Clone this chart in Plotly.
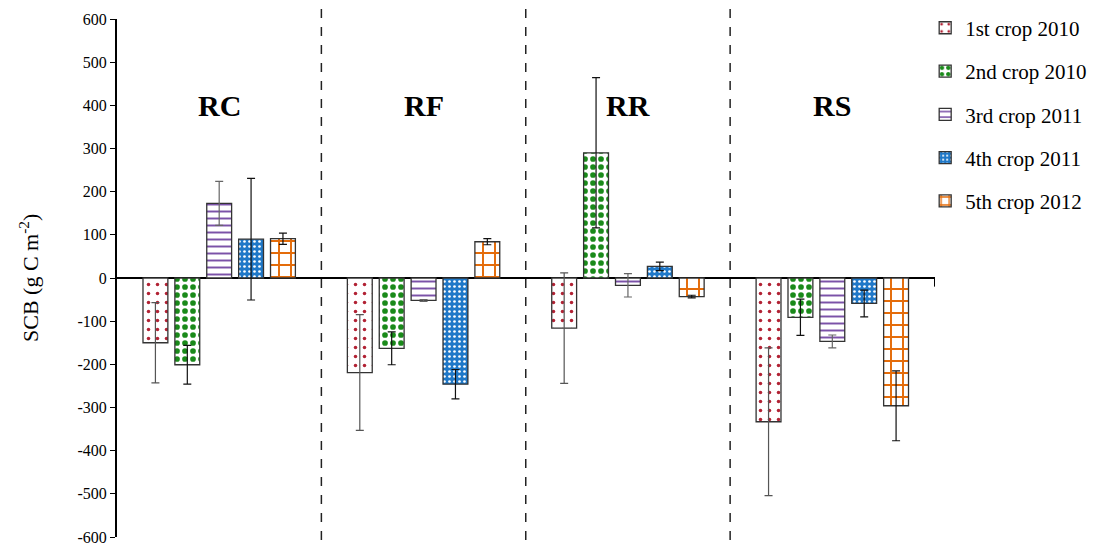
import plotly.graph_objects as go

sites = ["RC", "RF", "RR", "RS"]
series_names = ["1st crop 2010", "2nd crop 2010", "3rd crop 2011", "4th crop 2011", "5th crop 2012"]
values = [
    [-150, -219, -116, -333],
    [-201, -163, 290, -91],
    [173, -52, -17, -147],
    [90, -246, 27, -59],
    [91, 84, -43, -296],
]
errors = [
    [93, 134, 128, 171],
    [45, 38, 174, 42],
    [51, 2, 27, 15],
    [141, 34, 10, 31],
    [13, 7, 3, 81],
]
ytick_vals = list(range(-600, 601, 100))
ytick_text = [str(v) for v in ytick_vals]
y_title = "SCB (g C m<sup>-2</sup>)"

patterns = [
    dict(shape=".", fgcolor="#B22234", bgcolor="white", size=9, solidity=0.12),
    dict(shape=".", fgcolor="#1A8A1A", bgcolor="white", size=8, solidity=0.4),
    dict(shape="-", fgcolor="#7B52A8", bgcolor="white", size=7, solidity=0.28),
    dict(shape=".", fgcolor="white", bgcolor="#1F78C8", size=5, solidity=0.22),
    dict(shape="+", fgcolor="#E46C0A", bgcolor="white", size=12, solidity=0.3),
]
err_colors = ["#555555", "#111111", "#666666", "#111111", "#111111"]

fig = go.Figure()
for i, name in enumerate(series_names):
    fig.add_trace(go.Bar(
        x=sites, y=values[i], name=name, legendgroup=name,
        marker=dict(color="white", pattern=dict(fillmode="replace", **patterns[i]),
                    line=dict(color="#333333", width=1.3)),
        error_y=dict(type="data", array=errors[i], visible=True,
                     color=err_colors[i], thickness=1.2, width=4),
    ))

shapes = []
for b in [0.5, 1.5, 2.5]:
    shapes.append(dict(type="line", xref="x", yref="paper", x0=b, x1=b, y0=-0.006, y1=1.02,
                       line=dict(color="#222222", width=1.5, dash="dash")))
shapes.append(dict(type="line", xref="x", yref="y", x0=3.5, x1=3.5, y0=0, y1=-20,
                   line=dict(color="black", width=1)))

annotations = [dict(x=s, y=400, xref="x", yref="y", text="<b>%s</b>" % s, showarrow=False,
                    font=dict(family="Liberation Serif", size=30, color="black")) for s in sites]
annotations.append(dict(x=(29 - 117) / 818.0, y=0.5, xref="paper", yref="paper",
                        xanchor="center", yanchor="middle",
                        text=y_title, textangle=-90, showarrow=False,
                        font=dict(family="Liberation Serif", size=22, color="black")))

fig.update_layout(
    width=1093, height=540,
    margin=dict(l=109, r=166, t=11, b=11, autoexpand=False),
    plot_bgcolor="white", paper_bgcolor="white",
    barmode="group", bargap=0.22, bargroupgap=0.22,
    font=dict(family="Liberation Serif", color="black"),
    shapes=shapes, annotations=annotations,
    legend=dict(x=0.988, xanchor="left", y=1.022, yanchor="top",
                font=dict(family="Liberation Serif", size=21, color="black"),
                tracegroupgap=13, bgcolor="rgba(0,0,0,0)", itemwidth=30),
    xaxis=dict(showticklabels=False, showgrid=False, zeroline=False, showline=False, ticks="",
               automargin=False),
    yaxis=dict(range=[-600, 600], tickvals=ytick_vals, ticktext=ytick_text,
               showgrid=False, zeroline=True, zerolinecolor="black", zerolinewidth=2,
               showline=True, linecolor="black", linewidth=2, ticks="outside", ticklen=5,
               tickwidth=1, tickcolor="black", automargin=False,
               tickfont=dict(family="Liberation Serif", size=16, color="black")),
)
fig.write_html("out.html")
